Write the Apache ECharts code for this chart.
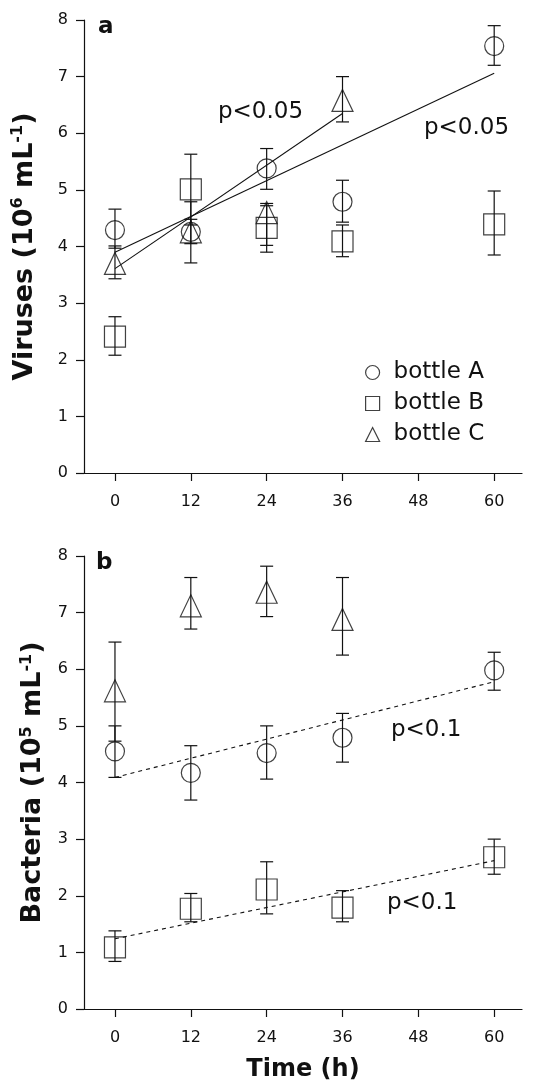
<!DOCTYPE html>
<html>
<head>
<meta charset="utf-8">
<script src="https://cdn.jsdelivr.net/npm/echarts@6/dist/echarts.min.js"></script>
<style>
    html, body { margin: 0; padding: 0; background: #fff; }
    #chart { width: 538px; height: 1081px; }
</style>
</head>
<body>
<div id="chart"></div>
<script>
var times = [0, 12, 24, 36, 60];
var timeTicks = [0, 12, 24, 36, 48, 60];

// panel a - viruses (10^6 mL^-1)
var virusA = [4.29, 4.26, 5.38, 4.79, 7.54];
var virusALow = [3.97, 3.71, 5.01, 4.43, 7.20];
var virusAHigh = [4.66, 4.79, 5.73, 5.17, 7.90];
var virusB = [2.41, 5.01, 4.33, 4.09, 4.39];
var virusBLow = [2.08, 4.38, 3.90, 3.82, 3.85];
var virusBHigh = [2.76, 5.63, 4.76, 4.38, 4.98];
var virusC = [3.70, 4.26, 4.60, 6.58]; // bottle C stops at 36 h
var virusCLow = [3.43, 4.05, 4.02, 6.20];
var virusCHigh = [4.01, 4.48, 4.72, 7.00];
var virusFitA = [[0, 3.90], [60, 7.06]];
var virusFitC = [[0, 3.61], [36, 6.35]];

// panel b - bacteria (10^5 mL^-1)
var bactA = [4.55, 4.17, 4.52, 4.79, 5.98];
var bactALow = [4.09, 3.69, 4.06, 4.36, 5.63];
var bactAHigh = [5.00, 4.65, 5.00, 5.22, 6.30];
var bactB = [1.09, 1.77, 2.11, 1.79, 2.68];
var bactBLow = [0.84, 1.54, 1.68, 1.54, 2.38];
var bactBHigh = [1.38, 2.04, 2.60, 2.09, 3.00];
var bactC = [5.62, 7.12, 7.36, 6.88];
var bactCLow = [4.73, 6.71, 6.93, 6.25];
var bactCHigh = [6.48, 7.62, 7.82, 7.62];
var bactFitA = [[0, 4.09], [60, 5.78]];
var bactFitB = [[0, 1.24], [60, 2.62]];

var ink = '#111';
var font = 'DejaVu Sans';

function pts(vals) {
    return vals.map(function(v, i) { return [times[i], v]; });
}
function bars(lo, hi) {
    return lo.map(function(v, i) { return [times[i], v, hi[i]]; });
}

// vertical error bar with caps
function renderErr(params, api) {
    var lo = api.coord([api.value(0), api.value(1)]);
    var hi = api.coord([api.value(0), api.value(2)]);
    var w = 6.5;
    var st = { stroke: ink, lineWidth: 1.2 };
    return {
        type: 'group',
        children: [
            { type: 'line', shape: { x1: lo[0], y1: lo[1], x2: hi[0], y2: hi[1] }, style: st },
            { type: 'line', shape: { x1: lo[0] - w, y1: lo[1], x2: lo[0] + w, y2: lo[1] }, style: st },
            { type: 'line', shape: { x1: hi[0] - w, y1: hi[1], x2: hi[0] + w, y2: hi[1] }, style: st }
        ]
    };
}

function errSeries(idx, lo, hi) {
    return {
        type: 'custom',
        xAxisIndex: idx,
        yAxisIndex: idx,
        renderItem: renderErr,
        encode: { x: 0, y: [1, 2] },
        data: bars(lo, hi),
        silent: true
    };
}
function fitSeries(idx, data, dashed) {
    return {
        type: 'line',
        xAxisIndex: idx,
        yAxisIndex: idx,
        data: data,
        symbol: 'none',
        silent: true,
        lineStyle: { color: ink, width: 1.1, type: dashed ? [4, 4] : 'solid' }
    };
}
function markSeries(idx, name, vals, symbol, size) {
    return {
        type: 'scatter',
        name: name,
        xAxisIndex: idx,
        yAxisIndex: idx,
        data: pts(vals),
        symbol: symbol,
        symbolSize: size,
        itemStyle: { color: 'rgba(0,0,0,0)', borderColor: ink, borderWidth: 1.2 },
        z: 5
    };
}

function xAxisFor(idx, name) {
    return {
        type: 'value',
        gridIndex: idx,
        min: -4.9,
        max: 64.4,
        name: name,
        nameLocation: 'middle',
        nameGap: 49,
        nameTextStyle: { fontSize: 24, fontWeight: 'bold', color: ink, fontFamily: font },
        axisLine: { show: true, onZero: false, lineStyle: { color: ink, width: 1.2 } },
        axisTick: { show: true, length: 8, customValues: timeTicks, lineStyle: { color: ink, width: 1.2 } },
        axisLabel: { customValues: timeTicks, fontSize: 16, color: ink, margin: 21, fontFamily: font },
        splitLine: { show: false }
    };
}
function yAxisFor(idx, name, gap) {
    return {
        type: 'value',
        gridIndex: idx,
        min: 0,
        max: 8,
        interval: 1,
        name: name,
        nameLocation: 'middle',
        nameRotate: 90,
        nameGap: gap,
        nameTextStyle: {
            rich: {
                t: { fontSize: 27, fontWeight: 'bold', color: ink, fontFamily: font, lineHeight: 30 },
                s: { fontSize: 16, fontWeight: 'bold', color: ink, fontFamily: font, verticalAlign: 'top', lineHeight: 30 }
            }
        },
        axisLine: { show: true, onZero: false, lineStyle: { color: ink, width: 1.2 } },
        axisTick: { show: true, length: 8, lineStyle: { color: ink, width: 1.2 } },
        axisLabel: { fontSize: 16, color: ink, margin: 16, fontFamily: font },
        splitLine: { show: false }
    };
}

function label(text, x, y, bold) {
    return {
        type: 'text',
        x: x,
        y: y,
        silent: true,
        style: {
            text: text,
            fill: ink,
            fontSize: 23,
            fontWeight: bold ? 'bold' : 'normal',
            fontFamily: font,
            verticalAlign: 'middle'
        }
    };
}

var chart = echarts.init(document.getElementById('chart'));
var option = {
    animation: false,
    backgroundColor: '#fff',
    textStyle: { fontFamily: font },
    grid: [
        { left: 84, right: 16, top: 20, height: 453, outerBoundsMode: 'none' },
        { left: 84, right: 16, top: 556, height: 453, outerBoundsMode: 'none' }
    ],
    xAxis: [xAxisFor(0, ''), xAxisFor(1, 'Time (h)')],
    yAxis: [
        yAxisFor(0, '{t|Viruses (10}{s|6}{t| mL}{s|-1}{t|)}', 44),
        yAxisFor(1, '{t|Bacteria (10}{s|5}{t| mL}{s|-1}{t|)}', 34)
    ],
    legend: {
        data: [
            { name: 'bottle A', icon: 'circle' },
            { name: 'bottle B', icon: 'rect' },
            { name: 'bottle C', icon: 'triangle' }
        ],
        orient: 'vertical',
        left: 360,
        top: 356,
        itemWidth: 14,
        itemHeight: 14,
        itemGap: 8,
        selectedMode: false,
        itemStyle: { color: 'rgba(0,0,0,0)', borderColor: ink, borderWidth: 1.2 },
        textStyle: { fontSize: 23, color: ink, fontFamily: font, lineHeight: 23, padding: [0, 0, 0, 9] }
    },
    graphic: [
        label('a', 98, 27, true),
        label('p<0.05', 218, 112, false),
        label('p<0.05', 424, 128, false),
        label('b', 96, 563, true),
        label('p<0.1', 391, 730, false),
        label('p<0.1', 387, 903, false)
    ],
    series: [
        errSeries(0, virusALow, virusAHigh),
        errSeries(0, virusBLow, virusBHigh),
        errSeries(0, virusCLow, virusCHigh),
        fitSeries(0, virusFitA, false),
        fitSeries(0, virusFitC, false),
        markSeries(0, 'bottle A', virusA, 'circle', 19),
        markSeries(0, 'bottle B', virusB, 'rect', 21),
        markSeries(0, 'bottle C', virusC, 'triangle', [21, 22]),

        errSeries(1, bactALow, bactAHigh),
        errSeries(1, bactBLow, bactBHigh),
        errSeries(1, bactCLow, bactCHigh),
        fitSeries(1, bactFitA, true),
        fitSeries(1, bactFitB, true),
        markSeries(1, 'bottle A', bactA, 'circle', 19),
        markSeries(1, 'bottle B', bactB, 'rect', 21),
        markSeries(1, 'bottle C', bactC, 'triangle', [21, 22])
    ]
};
chart.setOption(option);
</script>
</body>
</html>
